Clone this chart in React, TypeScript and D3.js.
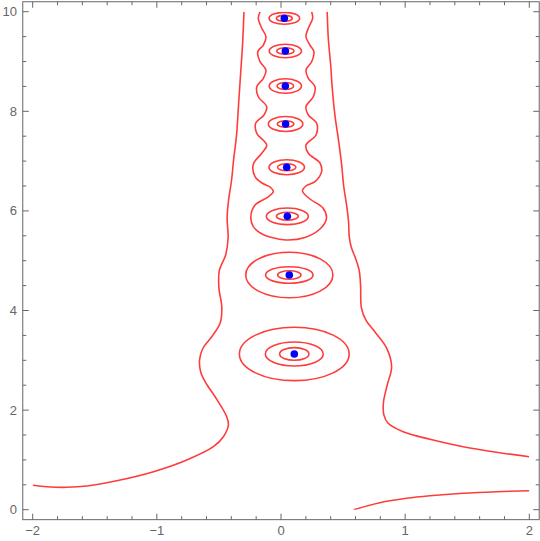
import React from "react";
import * as d3 from "d3";

// blue points (zeros)
const zeroX = [0.107, 0.067, 0.051, 0.046, 0.037, 0.035, 0.035, 0.027];
const zeroY = [3.127, 4.713, 5.892, 6.876, 7.745, 8.508, 9.211, 9.867];

// closed rings around each zero: semi-axes in data units
const smallRx = [0.118, 0.094, 0.088, 0.074, 0.067, 0.067, 0.07, 0.064];
const smallRy = [0.127, 0.084, 0.08, 0.07, 0.066, 0.07, 0.066, 0.06];
const mediumRx = [0.233, 0.191, 0.169, 0.143, 0.139, 0.13, 0.13, 0.123];
const mediumRy = [0.241, 0.167, 0.167, 0.151, 0.151, 0.145, 0.135, 0.12];
const largeRx = [0.442, 0.351];
const largeRy = [0.536, 0.458];

// open contours
const leftOuter: [number, number][] = [
  [-2, 0.49], [-1.885, 0.46], [-1.724, 0.45], [-1.563, 0.476], [-1.295, 0.596],
  [-1.027, 0.763], [-0.759, 0.998], [-0.545, 1.265], [-0.464, 1.466], [-0.424, 1.7],
  [-0.437, 1.867], [-0.531, 2.269], [-0.595, 2.504], [-0.645, 2.75], [-0.656, 3.006],
  [-0.628, 3.247], [-0.558, 3.474], [-0.49, 3.75], [-0.477, 4.076], [-0.5, 4.45],
  [-0.497, 4.8], [-0.445, 5.12], [-0.426, 5.46], [-0.434, 5.857], [-0.422, 6.22],
  [-0.398, 6.62], [-0.382, 7.02], [-0.358, 7.52], [-0.342, 8.127], [-0.326, 8.73],
  [-0.31, 9.33], [-0.298, 10.0],
];

const rightOuter: [number, number][] = [
  [0.372, 10.0], [0.381, 9.466], [0.4, 8.93], [0.413, 8.462], [0.434, 7.93],
  [0.461, 7.458], [0.488, 6.938], [0.505, 6.5], [0.532, 6.05], [0.545, 5.75],
  [0.549, 5.5], [0.565, 5.28], [0.6, 5.05], [0.63, 4.8], [0.641, 4.5], [0.648, 4.05],
  [0.685, 3.8], [0.76, 3.56], [0.85, 3.25], [0.891, 2.871], [0.855, 2.5],
  [0.825, 2.15], [0.829, 1.9], [0.863, 1.735], [0.984, 1.566], [1.199, 1.414],
  [1.467, 1.265], [1.735, 1.153], [2.0, 1.064],
];

const bottomRight: [number, number][] = [
  [0.585, 0.0], [0.796, 0.14], [1.011, 0.229], [1.199, 0.28], [1.467, 0.33],
  [1.735, 0.361], [2.0, 0.38],
];

const innerChain: [number, number][] = [
  [-0.169, 10.0], [-0.183, 9.867], [-0.155, 9.667], [-0.121, 9.498], [-0.142, 9.331],
  [-0.187, 9.197], [-0.169, 8.996], [-0.121, 8.829], [-0.142, 8.663], [-0.195, 8.494],
  [-0.183, 8.293], [-0.115, 8.092], [-0.137, 7.926], [-0.204, 7.759], [-0.195, 7.558],
  [-0.115, 7.323], [-0.155, 7.157], [-0.223, 6.938], [-0.209, 6.687], [-0.153, 6.56],
  [-0.088, 6.48], [-0.062, 6.386], [-0.105, 6.279], [-0.209, 6.118], [-0.243, 5.884],
  [-0.223, 5.683], [-0.153, 5.536], [-0.088, 5.476], [0.046, 5.416], [0.193, 5.466],
  [0.314, 5.637], [0.366, 5.851], [0.338, 6.058], [0.233, 6.239], [0.173, 6.4],
  [0.201, 6.5], [0.274, 6.586], [0.327, 6.787], [0.314, 6.962], [0.22, 7.157],
  [0.201, 7.323], [0.282, 7.524], [0.287, 7.759], [0.22, 7.926], [0.201, 8.092],
  [0.26, 8.293], [0.274, 8.494], [0.22, 8.663], [0.201, 8.829], [0.247, 8.996],
  [0.265, 9.197], [0.233, 9.331], [0.201, 9.498], [0.22, 9.667], [0.255, 9.867],
  [0.247, 10.0],
];

const xTicks = [-2, -1, 0, 1, 2];
const yTicks = [0, 2, 4, 6, 8, 10];

const W = 540;
const H = 541;
const red = "#ff3c3c";
const frameColor = "#666666";

export default function App() {
  const x = d3.scaleLinear().domain([-2, 2]).range([32.7, 529.3]);
  const y = d3.scaleLinear().domain([0, 10]).range([509.7, 11.7]);

  const line = d3
    .line<[number, number]>()
    .x((d) => x(d[0]))
    .y((d) => y(d[1]))
    .curve(d3.curveCatmullRom.alpha(0.5));

  const x0 = x(-2.08), x1 = x(2.08);
  const y0 = y(-0.2), y1 = y(10.2);

  const xMinor = d3.range(-2, 2.001, 0.2).filter((v) => Math.abs(v - Math.round(v)) > 1e-6);
  const yMinor = d3.range(0, 10.001, 0.5).filter((v) => Math.abs(v / 2 - Math.round(v / 2)) > 1e-6);

  const rings: { cx: number; cy: number; rx: number; ry: number }[] = [];
  zeroX.forEach((zx, i) => {
    rings.push({ cx: zx, cy: zeroY[i], rx: smallRx[i], ry: smallRy[i] });
    rings.push({ cx: zx, cy: zeroY[i], rx: mediumRx[i], ry: mediumRy[i] });
    if (i < largeRx.length) rings.push({ cx: zx, cy: zeroY[i], rx: largeRx[i], ry: largeRy[i] });
  });

  const fmt = (v: number) => (v < 0 ? "\u2212" + Math.abs(v) : String(v));

  return (
    <svg
      width={W}
      height={H}
      style={{ position: "absolute", left: 0, top: 0 }}
      fontFamily="'Liberation Sans', Arial, sans-serif"
    >
      <defs>
        <clipPath id="plot">
          <rect x={x(-2)} y={y(10)} width={x(2) - x(-2)} height={y(0) - y(10)} />
        </clipPath>
      </defs>

      <g clipPath="url(#plot)" fill="none" stroke={red} strokeWidth={1.6}>
        {[leftOuter, rightOuter, bottomRight, innerChain].map((c, i) => (
          <path key={i} d={line(c) || ""} />
        ))}
        {rings.map((r, i) => (
          <ellipse
            key={i}
            cx={x(r.cx)}
            cy={y(r.cy)}
            rx={x(r.cx + r.rx) - x(r.cx)}
            ry={y(r.cy) - y(r.cy + r.ry)}
          />
        ))}
      </g>

      {zeroX.map((zx, i) => (
        <circle key={i} cx={x(zx)} cy={y(zeroY[i])} r={3.8} fill="#0000ff" />
      ))}

      <g stroke={frameColor} strokeWidth={1} fill="none">
        <rect x={x0} y={y1} width={x1 - x0} height={y0 - y1} />
        {xTicks.map((t) => (
          <g key={"xt" + t}>
            <line x1={x(t)} x2={x(t)} y1={y0} y2={y0 - 6} />
            <line x1={x(t)} x2={x(t)} y1={y1} y2={y1 + 6} />
          </g>
        ))}
        {xMinor.map((t, i) => (
          <g key={"xm" + i}>
            <line x1={x(t)} x2={x(t)} y1={y0} y2={y0 - 3.5} />
            <line x1={x(t)} x2={x(t)} y1={y1} y2={y1 + 3.5} />
          </g>
        ))}
        {yTicks.map((t) => (
          <g key={"yt" + t}>
            <line x1={x0} x2={x0 + 6} y1={y(t)} y2={y(t)} />
            <line x1={x1} x2={x1 - 6} y1={y(t)} y2={y(t)} />
          </g>
        ))}
        {yMinor.map((t, i) => (
          <g key={"ym" + i}>
            <line x1={x0} x2={x0 + 3.5} y1={y(t)} y2={y(t)} />
            <line x1={x1} x2={x1 - 3.5} y1={y(t)} y2={y(t)} />
          </g>
        ))}
      </g>

      <g fill="#666666" fontSize={13}>
        {xTicks.map((t) => (
          <text key={"xl" + t} x={x(t)} y={535} textAnchor="middle">
            {fmt(t)}
          </text>
        ))}
        {yTicks.map((t) => (
          <text key={"yl" + t} x={17} y={y(t)} textAnchor="end" dominantBaseline="central">
            {fmt(t)}
          </text>
        ))}
      </g>
    </svg>
  );
}
